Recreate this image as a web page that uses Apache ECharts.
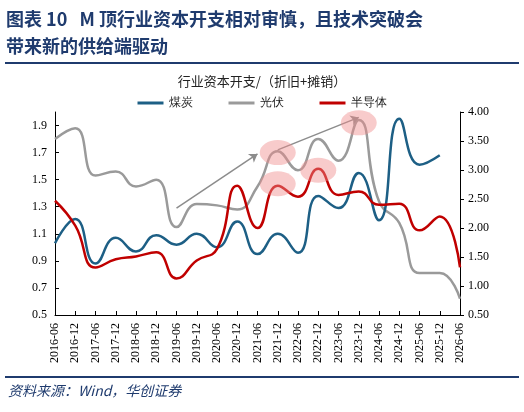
<!DOCTYPE html>
<html><head><meta charset="utf-8">
<script src="https://cdn.jsdelivr.net/npm/echarts@6/dist/echarts.min.js"></script>
<style>body{margin:0;background:#fff}#c{width:524px;height:412px}</style>
</head><body><div id="c"></div>
<script>
const categories=['2016-06','2016-12','2017-06','2017-12','2018-06','2018-12','2019-06','2019-12','2020-06','2020-12','2021-06','2021-12','2022-06','2022-12','2023-06','2023-12','2024-06','2024-12','2025-06','2025-12','2026-06'];
const coal=[1.03,1.21,0.88,1.07,0.97,1.09,1.02,1.10,1.00,1.19,0.95,1.10,0.96,1.38,1.29,1.55,1.20,1.95,1.61,1.68,null];
const pv=[1.80,1.88,1.53,1.56,1.45,1.50,1.15,1.32,1.31,1.28,1.45,1.71,1.57,1.80,1.64,1.94,1.34,1.18,0.81,0.81,0.62];
const semi=[2.47,2.04,1.32,1.46,1.51,1.58,1.13,1.44,1.64,2.73,2.00,2.73,2.54,3.02,2.57,2.63,2.40,2.42,1.96,2.20,1.32];
const leftTicks=[0.5,2.0,0.2];
const rightTicks=[0.5,4.0,0.5];
const ellipses=[[11.04,1.70],[10.99,1.47],[13.06,1.57],[14.71,1.92]];
const arrows=[[[6.26,1.29],[9.84,1.69]],[[11.09,1.72],[14.75,1.96]]];
const navy='#1f3b6e';
const chart=echarts.init(document.getElementById('c'));
const fam='"Times New Roman","Liberation Serif",serif';
chart.setOption({
  animation:false,
  graphic:[
    {type:'text',left:6,top:6,style:{text:'图表 10   M 顶行业资本开支相对审慎，且技术突破会\n带来新的供给端驱动',fill:navy,font:'bold 18px "Noto Sans CJK SC"',lineHeight:27}},
    {type:'rect',shape:{x:5,y:62,width:514,height:2},style:{fill:navy}},
    {type:'rect',shape:{x:5,y:376,width:514,height:2},style:{fill:navy}},
    {type:'text',left:8,top:384,style:{text:'资料来源：Wind，华创证券',fill:navy,font:'italic 14px "Noto Sans CJK SC"'}}
  ],
  title:{text:'行业资本开支/（折旧+摊销）',left:'center',top:70,textStyle:{fontSize:13,fontWeight:'normal',color:'#222',fontFamily:'Noto Sans CJK SC'}},
  legend:{top:92,itemWidth:26,itemHeight:3,itemGap:36,icon:'rect',textStyle:{fontSize:12,color:'#222'},data:['煤炭','光伏','半导体']},
  grid:{left:55,right:64,top:112,bottom:97},
  xAxis:{type:'category',data:categories,boundaryGap:false,
    axisLine:{lineStyle:{color:'#000'}},axisTick:{inside:true,length:4,lineStyle:{color:'#000'}},
    axisLabel:{rotate:90,fontSize:12,color:'#000',fontFamily:fam,interval:0}},
  yAxis:[
    {type:'value',min:leftTicks[0],max:leftTicks[1],interval:leftTicks[2],splitLine:{show:false},
     axisLine:{show:true,lineStyle:{color:'#000'}},axisTick:{show:true,inside:true,length:4},
     axisLabel:{fontSize:12,color:'#000',fontFamily:fam,showMaxLabel:false,formatter:v=>v.toFixed(1)}},
    {type:'value',min:rightTicks[0],max:rightTicks[1],interval:rightTicks[2],splitLine:{show:false},
     axisLine:{show:true,lineStyle:{color:'#000'}},axisTick:{show:true,length:4},
     axisLabel:{fontSize:12,color:'#000',fontFamily:fam,formatter:v=>v.toFixed(2)}}
  ],
  series:[
    {name:'光伏',type:'line',data:pv,smooth:true,showSymbol:false,lineStyle:{width:2.5,color:'#9a9a9a'},itemStyle:{color:'#9a9a9a'},z:2,
     markPoint:{symbol:'circle',silent:true,label:{show:false},itemStyle:{color:'rgba(240,140,140,0.45)'},symbolSize:[36,25],
       data:ellipses.map(e=>({coord:e}))},
     markLine:{silent:true,symbol:['none','arrow'],symbolSize:8,label:{show:false},lineStyle:{color:'#8c8c8c',width:1.5,type:'solid'},
       data:arrows.map(a=>[{coord:a[0]},{coord:a[1]}])}},
    {name:'煤炭',type:'line',data:coal,smooth:true,showSymbol:false,lineStyle:{width:2.5,color:'#1d5f85'},itemStyle:{color:'#1d5f85'},z:3},
    {name:'半导体',type:'line',yAxisIndex:1,data:semi,smooth:true,showSymbol:false,lineStyle:{width:2.5,color:'#c00000'},itemStyle:{color:'#c00000'},z:4}
  ]
});
</script></body></html>
